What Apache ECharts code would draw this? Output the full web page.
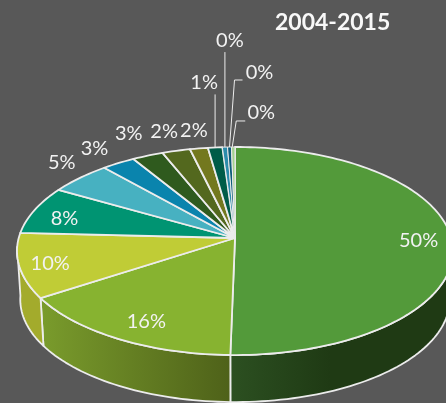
<!DOCTYPE html>
<html><head><meta charset="utf-8">
<style>html,body{margin:0;padding:0;background:#585858}#c{width:446px;height:403px}</style>
<script src="https://cdn.jsdelivr.net/npm/echarts@6/dist/echarts.min.js"></script>
</head><body><div id="c"></div>
<script>
const titleText = '2004-2015';
const sliceValues = [50.3, 15.5, 10, 7.5, 5.2, 2.8, 2.6, 2.35, 1.5, 1.2, 0.43, 0.33, 0.29];
const sliceColors = ['#539a3a','#87b330','#c0cc36','#009472','#47b1c1','#0a84ad','#2f5a1e','#53681e','#73781e','#005c48','#2c8cab','#0f5d7a','#a4d090'];
const wallStops = [
  [[0,'#2c5021'],[0.45,'#1f3a14'],[1,'#1f3a14']],
  [[0,'#7a9c2c'],[1,'#4e6119']],
  [[0,'#a3ab2c'],[1,'#a3ab2c']]
];
const labelOffsets = [[-33,2],[29,-17],[31,-2],[30,8],[-18,-15],[-24,-15],[-19,-22],[-12,-19],[-5,-18],[-11,-65],[5,-107],[30,-74],[28,-34]];
const leaderOffsets = [null,null,null,null,null,null,null,null,null,
  [[0,0],[0,-53]], [[0,0],[0,-95]], [[0,0],[5,-67],[13,-67]], [[-1,0],[3,-26],[12,-26]]];

// projection of the tilted disc
const G = {cx:235, cy:238, R:216.3, h:102.4, k:0.125, drop:48.8, shrink:0.985, wallFrom:90, wallTo:265};
const LINE = '#ececec';
const total = sliceValues.reduce((a,b)=>a+b,0);
const cum = [0];
sliceValues.forEach(v=>cum.push(cum[cum.length-1]+v));
const deg = p => p/total*360;
function upperRim(phi){
  const a=phi*Math.PI/180, s=Math.sin(a), c=Math.cos(a), D=1+G.k*c;
  return [G.cx+G.R*s/D, G.cy-G.h*c/D];
}
function lowerRim(phi){
  const p=upperRim(phi);
  return [G.cx+(p[0]-G.cx)*G.shrink, G.cy+G.drop+(p[1]-G.cy)*G.shrink];
}
function arc(a,b,fn){
  const n=Math.max(2,Math.ceil(Math.abs(b-a)/1.5)), out=[];
  for(let i=0;i<=n;i++) out.push(fn(a+(b-a)*i/n));
  return out;
}
function renderWall(params,api){
  const i=params.dataIndex;
  const a=Math.max(deg(cum[i]),G.wallFrom), b=Math.min(deg(cum[i+1]),G.wallTo);
  if(b<=a || !wallStops[i]) return {type:'group',children:[]};
  const pts=arc(a,b,upperRim).concat(arc(b,a,lowerRim));
  return {type:'polygon',shape:{points:pts},style:{
    fill:{type:'linear',x:0,y:0,x2:1,y2:0,colorStops:wallStops[i].map(s=>({offset:s[0],color:s[1]}))},
    stroke:LINE,lineWidth:1.8,lineJoin:'round'}};
}
function renderTop(params,api){
  const i=params.dataIndex;
  const pts=[[G.cx,G.cy]].concat(arc(deg(cum[i]),deg(cum[i+1]),upperRim));
  return {type:'polygon',shape:{points:pts},style:{fill:sliceColors[i],stroke:LINE,lineWidth:i>9?1:1.8,lineJoin:'round'}};
}
function renderLabel(params,api){
  const i=params.dataIndex;
  const m=upperRim(deg((cum[i]+cum[i+1])/2));
  const o=labelOffsets[i], kids=[{type:'text',z2:5,style:{
    x:m[0]+o[0],y:m[1]+o[1],text:Math.round(api.value(0)/total*100)+'%',
    fill:'#f2f2f2',font:'20px Lato, Carlito, sans-serif',align:'center',verticalAlign:'middle'}}];
  if(leaderOffsets[i]) kids.push({type:'polyline',shape:{points:leaderOffsets[i].map(d=>[m[0]+d[0],m[1]+d[1]])},
    style:{stroke:LINE,lineWidth:1,fill:null}});
  return {type:'group',children:kids};
}
const chart=echarts.init(document.getElementById('c'),null,{renderer:'canvas'});
const base={type:'custom',coordinateSystem:'none',silent:true,animation:false,data:sliceValues.map(v=>[v])};
chart.setOption({
  animation:false,
  backgroundColor:'#585858',
  title:{text:titleText,left:270,top:6,textStyle:{color:'#f8f8f8',fontFamily:'Lato, Carlito, sans-serif',fontWeight:'bold',fontSize:23}},
  series:[
    Object.assign({},base,{name:'wall',z:1,renderItem:renderWall}),
    Object.assign({},base,{name:'top',z:2,renderItem:renderTop}),
    Object.assign({},base,{name:'label',z:3,renderItem:renderLabel})
  ]
});
</script></body></html>
